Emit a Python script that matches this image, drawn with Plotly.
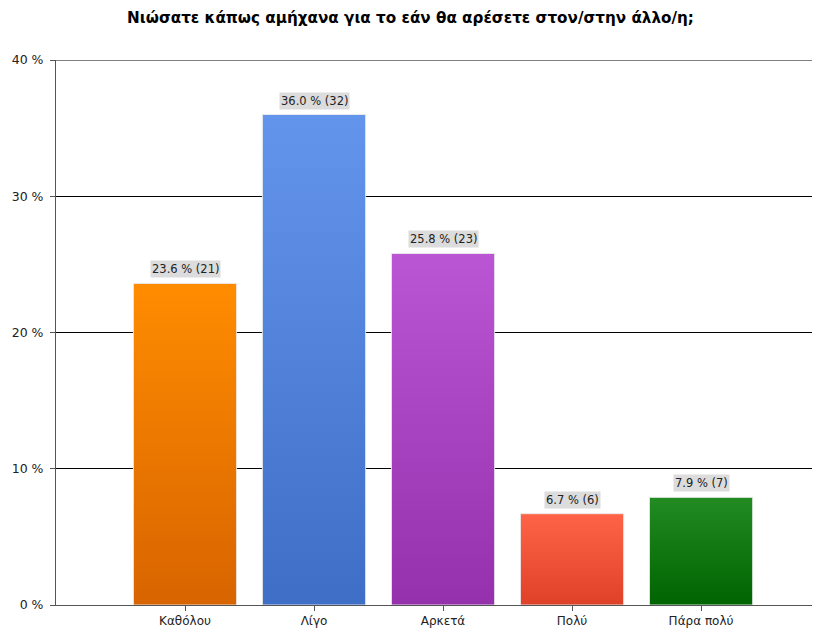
import plotly.graph_objects as go

categories = ["Καθόλου", "Λίγο", "Αρκετά", "Πολύ", "Πάρα πολύ"]
percentages = [23.6, 36.0, 25.8, 6.7, 7.9]
counts = [21, 32, 23, 6, 7]
top_colors = ["#FF8C00", "#6495ED", "#BA55D3", "#FF6347", "#228B22"]
bottom_colors = ["#D86400", "#3E6EC6", "#9531AD", "#DE4128", "#006400"]
y_tickvals = [0, 10, 20, 30, 40]
y_ticktext = ["0 %", "10 %", "20 %", "30 %", "40 %"]
title = "Νιώσατε κάπως αμήχανα για το εάν θα αρέσετε στον/στην άλλο/η;"

bar_half = 0.4
FONT = "DejaVu Sans, Verdana, sans-serif"
TFONT = "DejaVu Sans, Verdana, sans-serif"

fig = go.Figure()
for i, (cat, v) in enumerate(zip(categories, percentages)):
    fig.add_trace(go.Scatter(
        x=[i - bar_half, i + bar_half, i + bar_half, i - bar_half, i - bar_half],
        y=[0, 0, v, v, 0],
        mode="lines",
        fill="toself",
        fillgradient=dict(type="vertical",
                          colorscale=[[0, bottom_colors[i]], [1, top_colors[i]]]),
        line=dict(color="rgba(235,235,235,0.9)", width=1),
        hoverinfo="skip",
        showlegend=False,
        name=cat,
    ))
    fig.add_annotation(
        x=i, y=v, text=f"{v:.1f} % ({counts[i]})",
        showarrow=False, yanchor="bottom", yshift=5,
        bgcolor="#DCDCDC", borderpad=1,
        font=dict(family=FONT, size=11.5, color="#222"),
    )

# top boundary line at 40 %
fig.add_shape(type="line", xref="paper", yref="y", x0=0, x1=1, y0=40, y1=40,
              line=dict(color="#000", width=1), layer="above")

fig.update_layout(
    width=821, height=632,
    margin=dict(l=56, r=9, t=60, b=27, autoexpand=False),
    paper_bgcolor="white", plot_bgcolor="white",
    title=dict(text=f"<b>{title}</b>", x=0.5, xanchor="center",
               y=0.9715, yref="container", yanchor="middle",
               font=dict(family=TFONT, size=15.2, color="black")),
    font=dict(family=FONT, size=12, color="#222"),
    xaxis=dict(
        range=[-1.0, 4.86], tickmode="array", automargin=False,
        tickvals=list(range(len(categories))), ticktext=categories,
        showgrid=False, zeroline=False, showline=True, linecolor="#555", linewidth=1,
        ticks="outside", ticklen=5, tickcolor="#555",
        tickfont=dict(family=FONT, size=12, color="#222"),
    ),
    yaxis=dict(
        range=[0, 40], tickmode="array", tickvals=y_tickvals, ticktext=y_ticktext,
        automargin=False, ticklabelstandoff=4,
        showgrid=True, gridcolor="#000", gridwidth=1, zeroline=False,
        showline=True, linecolor="#555", linewidth=1,
        ticks="outside", ticklen=5, tickcolor="#555",
        tickfont=dict(family=FONT, size=12.5, color="#222"),
    ),
)

fig.write_html("out.html", config={"displayModeBar": False},
               post_script="document.body.style.margin='0';")
